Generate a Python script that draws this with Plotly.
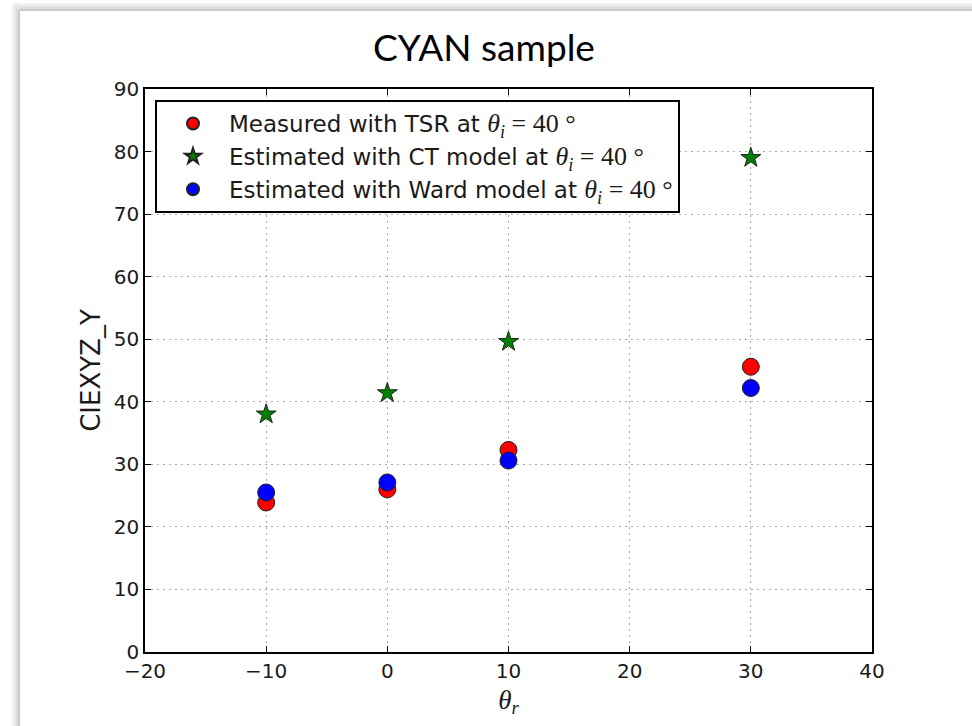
import plotly.graph_objects as go

theta_r = [-10, 0, 10, 30]
measured_tsr = [23.9, 26.0, 32.3, 45.6]
estimated_ct = [38.0, 41.4, 49.6, 79.0]
estimated_ward = [25.5, 27.1, 30.6, 42.2]

x_ticks = [-20, -10, 0, 10, 20, 30, 40]
y_ticks = [0, 10, 20, 30, 40, 50, 60, 70, 80, 90]
x_tick_labels = ["\u221220", "\u221210", "0", "10", "20", "30", "40"]

title_text = "CYAN sample"
y_label = "CIEXYZ_Y"
math_part = ("<span style='font-family:Liberation Serif;font-size:26px'>"
             "<i>θ</i><sub><i>i</i></sub> = 40 °</span>")
names = [
    "Measured with TSR at " + math_part,
    "Estimated with CT model at " + math_part,
    "Estimated with Ward model at " + math_part,
]

W, H = 972, 726
L, R, T, B = 145, 100, 89, 74
pw, ph = W - L - R, H - T - B

def px(xpix):
    return (xpix - L) / pw

def py(ypix):
    return (H - B - ypix) / ph

fig = go.Figure()
fig.add_trace(go.Scatter(
    x=theta_r, y=measured_tsr, mode="markers", name=names[0], legendgroup="a",
    marker=dict(symbol="circle", size=17, color="#ff0000", line=dict(color="#222222", width=1)),
))
fig.add_trace(go.Scatter(
    x=theta_r, y=estimated_ct, mode="markers", name=names[1], legendgroup="b",
    marker=dict(symbol="star", size=15, color="#008000", line=dict(color="#222222", width=1)),
))
fig.add_trace(go.Scatter(
    x=theta_r, y=estimated_ward, mode="markers", name=names[2], legendgroup="c",
    marker=dict(symbol="circle", size=17, color="#0000ff", line=dict(color="#222222", width=1)),
))

shapes = []
# card shadow / border
for i, c in enumerate(["#c8c8c8", "#dcdcdc", "#e8e8e8", "#f2f2f2"]):
    shapes.append(dict(type="line", xref="paper", yref="paper",
                       x0=px(19 - i * 2), x1=px(19 - i * 2), y0=py(10 - i * 2), y1=py(730),
                       line=dict(color=c, width=2)))
    shapes.append(dict(type="line", xref="paper", yref="paper",
                       x0=px(19 - i * 2), x1=px(975), y0=py(10 - i * 2), y1=py(10 - i * 2),
                       line=dict(color=c, width=2)))

fig.update_layout(
    width=W, height=H,
    margin=dict(l=L, r=R, t=T, b=B),
    paper_bgcolor="white", plot_bgcolor="white",
    shapes=shapes,
    title=dict(text=title_text, x=px(507), xanchor="center", y=1 - 48 / H, yanchor="middle",
               font=dict(family="Lato", size=37, color="black")),
    xaxis=dict(
        range=[-20, 40], tickvals=x_ticks, ticktext=x_tick_labels,
        showgrid=True, gridcolor="#a8a8a8", griddash="2px,4px", gridwidth=1,
        showline=True, linecolor="black", linewidth=1.5, mirror="ticks",
        ticks="inside", ticklen=6, tickcolor="black",
        zeroline=False,
        tickfont=dict(family="DejaVu Sans", size=20, color="#1a1a1a"),
        title=dict(text="<i>θ</i><sub><i>r</i></sub>", standoff=8,
                   font=dict(family="Liberation Serif", size=27, color="#1a1a1a")),
    ),
    yaxis=dict(
        range=[0, 90], tickvals=y_ticks,
        showgrid=True, gridcolor="#a8a8a8", griddash="2px,4px", gridwidth=1,
        showline=True, linecolor="black", linewidth=1.5, mirror="ticks",
        ticks="inside", ticklen=6, tickcolor="black",
        zeroline=False,
        tickfont=dict(family="DejaVu Sans", size=20, color="#1a1a1a"),
        title=dict(text=y_label, standoff=6,
                   font=dict(family="DejaVu Sans", size=26, color="#1a1a1a")),
    ),
    legend=dict(
        x=px(155), y=py(100), xanchor="left", yanchor="top",
        bgcolor="white", bordercolor="black", borderwidth=2,
        font=dict(family="DejaVu Sans", size=23, color="#1a1a1a"),
        itemsizing="constant", itemwidth=62, tracegroupgap=0,
    ),
    showlegend=True,
)

fig.write_html("out.html")
